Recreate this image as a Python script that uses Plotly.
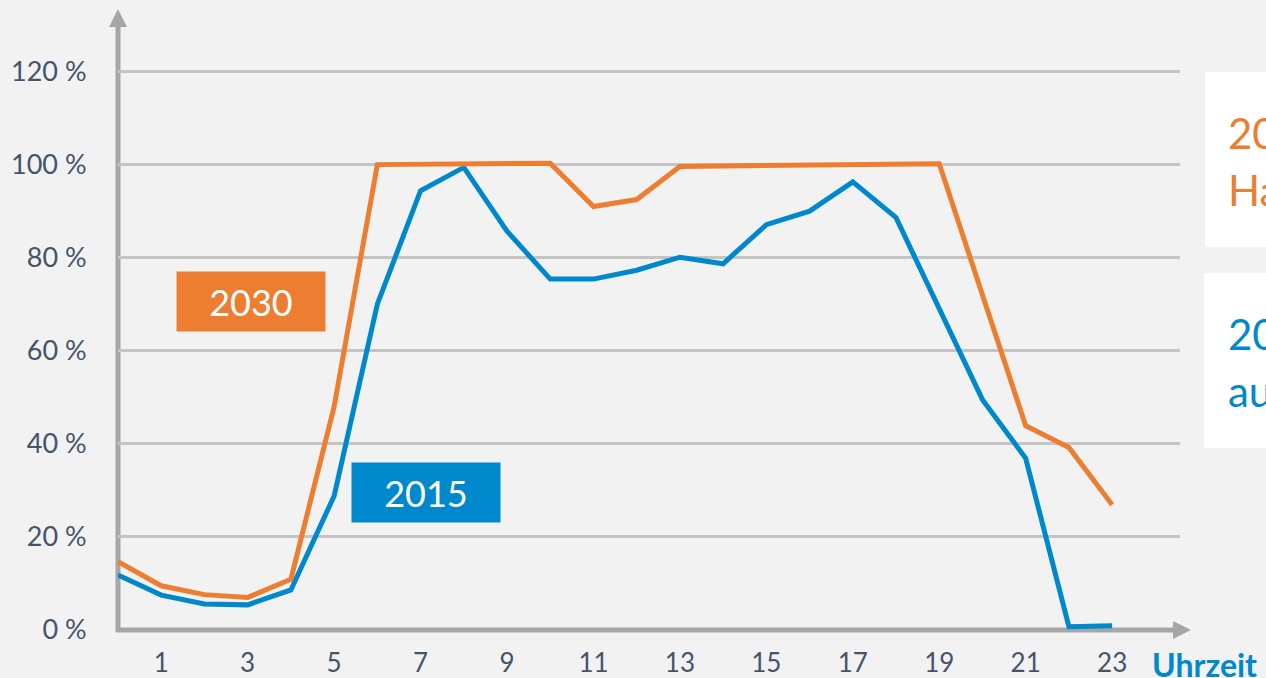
import plotly.graph_objects as go

# ---- data ----
hours = list(range(24))
share_2015 = [11.8, 7.5, 5.6, 5.4, 8.6, 28.8, 70.0, 94.4, 99.4, 85.7, 75.4, 75.4,
              77.3, 80.1, 78.7, 87.1, 90.0, 96.3, 88.6, 69.3, 49.5, 36.9, 0.7, 0.9]
share_2030 = [14.7, 9.5, 7.6, 7.0, 10.9, 48.0, 100.0, 100.1, 100.1, 100.2, 100.3, 91.0,
              92.5, 99.6, 99.7, 99.8, 99.9, 100.0, 100.1, 100.2, 72.0, 43.9, 39.2, 26.9]
x_tick_vals = [1, 3, 5, 7, 9, 11, 13, 15, 17, 19, 21, 23]
y_tick_vals = [0, 20, 40, 60, 80, 100, 120]
y_tick_text = ["0 %", "20 %", "40 %", "60 %", "80 %", "100 %", "120 %"]

ORANGE = "#ED7D31"
BLUE = "#0088CC"
AXIS = "#A6A6A6"
GRID = "#C4C4C4"
TXT = "#44546A"
BG = "#F2F2F2"
FONT = "Lato"

W, H = 1266, 678
ML, MR, MT, MB = 118, 86, 25, 48
PW, PH = W - ML - MR, H - MT - MB


def px(xp):
    return (xp - ML) / PW


def py(yp):
    return (H - MB - yp) / PH


fig = go.Figure()
fig.add_trace(go.Scatter(x=hours, y=share_2015, mode="lines", name="2015",
                         line=dict(color=BLUE, width=5), showlegend=False,
                         hoverinfo="skip"))
fig.add_trace(go.Scatter(x=hours, y=share_2030, mode="lines", name="2030",
                         line=dict(color=ORANGE, width=5), showlegend=False,
                         hoverinfo="skip"))

shapes = [
    # y axis line + arrow
    dict(type="line", xref="paper", yref="paper", x0=0, x1=0, y0=py(632), y1=py(26),
         line=dict(color=AXIS, width=5), layer="between"),
    dict(type="path", xref="paper", yref="paper",
         path=f"M {px(109)} {py(27)} L {px(127)} {py(27)} L {px(118)} {py(9)} Z",
         fillcolor=AXIS, line=dict(width=0), layer="between"),
    # x axis line + arrow
    dict(type="line", xref="paper", yref="paper", x0=px(116), x1=px(1174), y0=0, y1=0,
         line=dict(color=AXIS, width=5), layer="between"),
    dict(type="path", xref="paper", yref="paper",
         path=f"M {px(1173)} {py(621)} L {px(1173)} {py(639)} L {px(1191)} {py(630)} Z",
         fillcolor=AXIS, line=dict(width=0), layer="between"),
    # right-hand white boxes
    dict(type="rect", xref="paper", yref="paper", x0=px(1205), x1=px(1300),
         y0=py(247), y1=py(72), fillcolor="white", line=dict(width=0), layer="above"),
    dict(type="rect", xref="paper", yref="paper", x0=px(1204), x1=px(1300),
         y0=py(448), y1=py(273), fillcolor="white", line=dict(width=0), layer="above"),
]

annotations = [
    dict(xref="paper", yref="paper", x=px(251), y=py(301.5), text="2030",
         showarrow=False, bgcolor=ORANGE, width=148, height=59, borderpad=0,
         font=dict(family=FONT, size=36, color="white"), xanchor="center", yanchor="middle"),
    dict(xref="paper", yref="paper", x=px(426), y=py(492), text="2015",
         showarrow=False, bgcolor=BLUE, width=148, height=59, borderpad=0,
         font=dict(family=FONT, size=36, color="white"), xanchor="center", yanchor="middle"),
    dict(xref="paper", yref="paper", x=px(1150), y=py(664), text="<b>Uhrzeit</b>",
         showarrow=False, xanchor="left", yanchor="middle",
         font=dict(family=FONT, size=32, color=BLUE)),
    dict(xref="paper", yref="paper", x=px(1226), y=py(133), text="2030",
         showarrow=False, xanchor="left", yanchor="middle",
         font=dict(family=FONT, size=42, color=ORANGE)),
    dict(xref="paper", yref="paper", x=px(1226), y=py(190), text="Ha",
         showarrow=False, xanchor="left", yanchor="middle",
         font=dict(family=FONT, size=42, color=ORANGE)),
    dict(xref="paper", yref="paper", x=px(1226), y=py(334), text="2015",
         showarrow=False, xanchor="left", yanchor="middle",
         font=dict(family=FONT, size=42, color=BLUE)),
    dict(xref="paper", yref="paper", x=px(1226), y=py(391), text="au",
         showarrow=False, xanchor="left", yanchor="middle",
         font=dict(family=FONT, size=42, color=BLUE)),
]

fig.update_layout(
    width=W, height=H,
    margin=dict(l=ML, r=MR, t=MT, b=MB, pad=0, autoexpand=False),
    paper_bgcolor=BG, plot_bgcolor=BG,
    shapes=shapes, annotations=annotations,
    hovermode=False,
    xaxis=dict(range=[0, 24.57], tickvals=x_tick_vals, showgrid=False, zeroline=False,
               showline=False, ticks="outside", ticklen=10, tickcolor="rgba(0,0,0,0)",
               automargin=False, fixedrange=True,
               tickfont=dict(family=FONT, size=26, color=TXT)),
    yaxis=dict(range=[0, 130], tickvals=y_tick_vals, ticktext=y_tick_text,
               showgrid=True, gridcolor=GRID, gridwidth=2.5, zeroline=False,
               showline=False, ticks="outside", ticklen=25, tickcolor="rgba(0,0,0,0)",
               automargin=False, fixedrange=True,
               tickfont=dict(family=FONT, size=27, color=TXT)),
)

fig.write_html(
    "out.html",
    config={"displayModeBar": False},
    post_script="document.body.style.margin='0';document.body.style.overflow='hidden';",
)
